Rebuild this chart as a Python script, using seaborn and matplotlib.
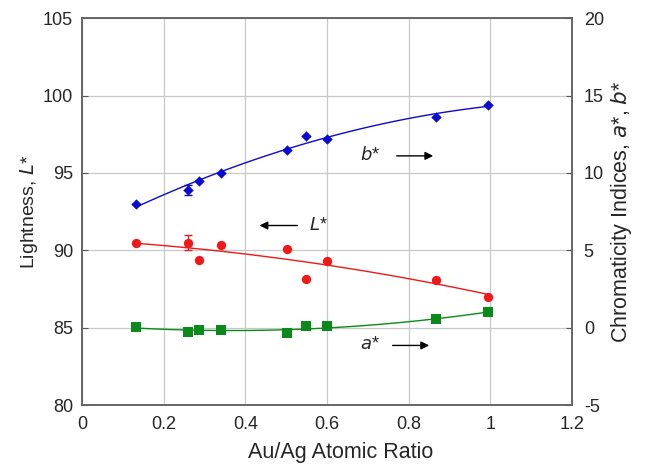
import numpy as np
import pandas as pd
import matplotlib
matplotlib.use("Agg")
import matplotlib.pyplot as plt
import seaborn as sns

sns.set_style("white")
plt.rcParams['font.family'] = ['Liberation Sans', 'DejaVu Sans']
plt.rcParams['axes.unicode_minus'] = False

# Data
ratio = [0.132, 0.26, 0.286, 0.34, 0.503, 0.549, 0.599, 0.867, 0.995]
L_star = [90.45, 90.5, 89.4, 90.35, 90.05, 88.15, 89.3, 88.1, 87.0]
b_star = [8.0, 8.9, 9.5, 10.0, 11.5, 12.4, 12.2, 13.6, 14.4]
a_star = [0.05, -0.28, -0.15, -0.17, -0.37, 0.1, 0.08, 0.55, 1.0]
L_err = [0, 0.5, 0, 0, 0, 0, 0, 0, 0]
b_err = [0, 0.3, 0, 0, 0, 0, 0, 0, 0]

x_ticks = [0, 0.2, 0.4, 0.6, 0.8, 1, 1.2]
x_ticklabels = ["0", "0.2", "0.4", "0.6", "0.8", "1", "1.2"]
L_ticks = [80, 85, 90, 95, 100, 105]
C_ticks = [-5, 0, 5, 10, 15, 20]

df = pd.DataFrame({"ratio": ratio, "L": L_star, "a": a_star, "b": b_star})

# quadratic trend lines fitted to the data
xf = np.linspace(min(ratio), max(ratio), 100)
fits = {}
for col in ["L", "a", "b"]:
    p = np.polyfit(df["ratio"], df[col], 2)
    fits[col] = np.polyval(p, xf)
fit_df = pd.DataFrame({"ratio": xf, **fits})

blue = "#0a0ad0"
red = "#f01818"
green = "#0a8a1a"

fig = plt.figure(figsize=(6.48, 4.65), dpi=100)
ax = fig.add_axes([0.1265, 0.129, 0.7562, 0.832])
ax2 = ax.twinx()

ax.set_xlim(0, 1.2)
ax.set_ylim(80, 105)
ax2.set_ylim(-5, 20)

ax.grid(True, color="#c8c8c8", linewidth=0.9)
ax.set_axisbelow(True)

# L* on left axis
sns.lineplot(data=fit_df, x="ratio", y="L", ax=ax, color=red, linewidth=1.0)
ax.errorbar(ratio, L_star, yerr=L_err, fmt="none", ecolor=red, elinewidth=0.9, capsize=3)
sns.scatterplot(data=df, x="ratio", y="L", ax=ax, color=red, marker="o", s=45,
                edgecolor=red, linewidth=0, zorder=5)

# b* and a* on right axis
sns.lineplot(data=fit_df, x="ratio", y="b", ax=ax2, color=blue, linewidth=1.0)
ax2.errorbar(ratio, b_star, yerr=b_err, fmt="none", ecolor=blue, elinewidth=0.9, capsize=3)
sns.scatterplot(data=df, x="ratio", y="b", ax=ax2, color=blue, marker="D", s=28,
                edgecolor=blue, linewidth=0, zorder=5)
sns.lineplot(data=fit_df, x="ratio", y="a", ax=ax2, color=green, linewidth=1.0)
sns.scatterplot(data=df, x="ratio", y="a", ax=ax2, color=green, marker="s", s=44,
                edgecolor=green, linewidth=0, zorder=5)

ax.set_xticks(x_ticks)
ax.set_xticklabels(x_ticklabels)
ax.set_yticks(L_ticks)
ax2.set_yticks(C_ticks)

ax.tick_params(axis="x", labelsize=13, direction="in", length=4, color="#555555", pad=8)
ax.tick_params(axis="y", labelsize=13, direction="in", length=4, color="#555555", pad=6.5)
ax2.tick_params(axis="y", labelsize=13, direction="in", length=4, color="#555555", pad=8.5)

ax.set_xlabel("Au/Ag Atomic Ratio", fontsize=15.5, labelpad=6.5)
ax.xaxis.label.set_x(0.527)
ax.set_ylabel("Lightness, $\\it{L}$*", fontsize=14, labelpad=2)
ax2.set_ylabel("Chromaticity Indices, $\\it{a}$*, $\\it{b}$*", fontsize=15.5, labelpad=4)

for a in (ax, ax2):
    for s in a.spines.values():
        s.set_color("#666666")
        s.set_linewidth(1.2)

# annotations
ax.text(0.705, 96.15, "$\\it{b}$*", fontsize=13, ha="center", va="center")
ax.annotate("", xy=(0.867, 96.1), xytext=(0.764, 96.1),
            arrowprops=dict(arrowstyle="-|>", color="black", lw=1.0, mutation_scale=12))
ax.text(0.58, 91.6, "$\\it{L}$*", fontsize=13, ha="center", va="center")
ax.annotate("", xy=(0.428, 91.6), xytext=(0.534, 91.6),
            arrowprops=dict(arrowstyle="-|>", color="black", lw=1.0, mutation_scale=12))
ax.text(0.705, 83.9, "$\\it{a}$*", fontsize=13, ha="center", va="center")
ax.annotate("", xy=(0.857, 83.85), xytext=(0.754, 83.85),
            arrowprops=dict(arrowstyle="-|>", color="black", lw=1.0, mutation_scale=12))

fig.savefig("out.png", dpi=100)
